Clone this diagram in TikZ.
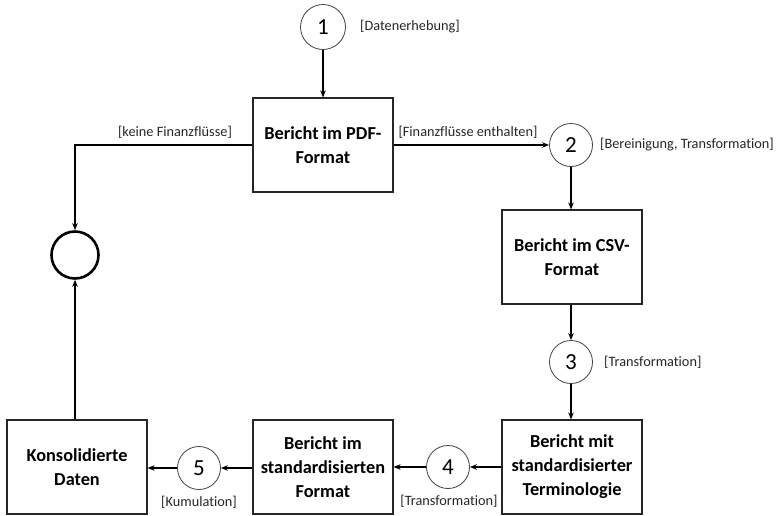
\documentclass[tikz,border=0pt]{standalone}
\usepackage{fontspec}
\setmainfont{Carlito}[Ligatures={NoCommon}]
\usetikzlibrary{arrows.meta}
\begin{document}
\begin{tikzpicture}[x=1pt,y=-1pt,
  box/.style={draw=black!85,line width=1.1pt,minimum width=140pt,minimum height=94pt,inner sep=0pt,align=center,font=\fontsize{18.3}{24}\selectfont\bfseries},
  num/.style={draw=black!75,line width=0.8pt,circle,minimum size=43pt,inner sep=0pt,font=\fontsize{23}{26}\selectfont},
  lbl/.style={font=\fontsize{14.3}{16}\selectfont,text=black!85,inner sep=0pt},
  arr/.style={-{Stealth[length=7pt,width=5.5pt]},line width=1.3pt},
  ln/.style={line width=1.3pt}]
\useasboundingbox (0,0) rectangle (777,515);
% boxes
\node[box] (pdf) at (323,145) {Bericht im PDF-\\Format};
\node[box] (csv) at (572,257) {Bericht im CSV-\\Format};
\node[box] (term) at (572,467) {Bericht mit\\standardisierter\\Terminologie};
\node[box] (std) at (323,467) {Bericht im\\standardisierten\\Format};
\node[box] (kon) at (77,467) {Konsolidierte\\Daten};
% circles
\node[num,minimum size=45pt] (c1) at (323,27) {1};
\node[num] (c2) at (571,145) {2};
\node[num] (c3) at (571,362) {3};
\node[num] (c4) at (448,467) {4};
\node[num] (c5) at (199,468) {5};
\node[circle,draw=black,line width=2.6pt,minimum size=47pt,inner sep=0pt] (end) at (75,255) {};
% labels
\node[lbl,anchor=west] (l1) at (360,27) {[Datenerhebung]};
\node[lbl,anchor=west] (l2) at (600,145) {[Bereinigung, Transformation]};
\node[lbl,anchor=west] (l3) at (604,362) {[Transformation]};
\node[lbl] (l4) at (449,501) {[Transformation]};
\node[lbl] (l5) at (199,502) {[Kumulation]};
\node[lbl] (lf) at (468,132) {[Finanzflüsse enthalten]};
\node[lbl] (lk) at (175,132) {[keine Finanzflüsse]};
% connectors
\draw[arr] (c1) -- (pdf);
\draw[arr] (pdf.east |- c2) -- (c2);
\draw[arr] (c2) -- (c2 |- csv.north);
\draw[arr] (csv.south -| c3) -- (c3);
\draw[arr] (c3) -- (c3 |- term.north);
\draw[arr] (term.west |- c4) -- (c4);
\draw[arr] (c4) -- (std.east |- c4);
\draw[arr] (std.west |- c5) -- (c5);
\draw[arr] (c5) -- (kon.east |- c5);
\draw[arr] (pdf.west |- c2) -| (end.north);
\draw[arr] (kon.north -| end) -- (end.south);
\end{tikzpicture}
\end{document}
